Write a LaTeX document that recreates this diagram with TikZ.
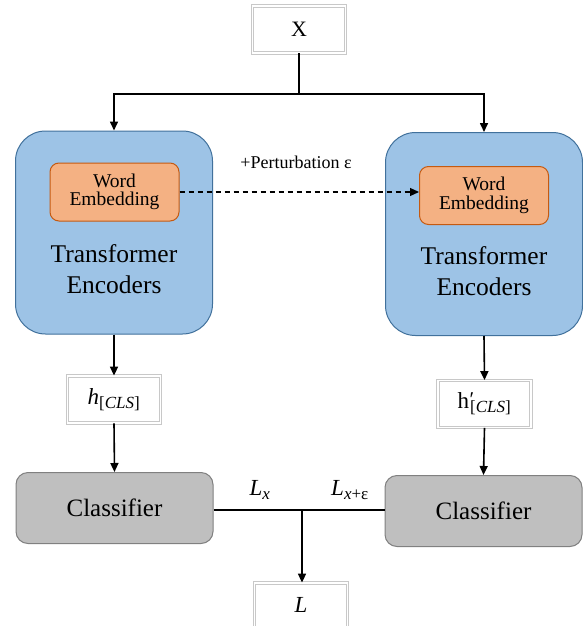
\documentclass[tikz,border=0pt]{standalone}
\usepackage{fontspec}
\setmainfont{Liberation Serif}
\newfontfamily\tnr{Liberation Serif}
\usetikzlibrary{arrows.meta,calc}
\definecolor{encfill}{HTML}{9DC3E6}
\definecolor{encdraw}{HTML}{41719C}
\definecolor{wefill}{HTML}{F4B183}
\definecolor{wedraw}{HTML}{C55A11}
\definecolor{clsfill}{HTML}{BFBFBF}
\definecolor{clsdraw}{HTML}{808080}
\definecolor{boxline}{HTML}{C8C8C8}
\newcommand{\myfs}[1]{\tnr\fontsize{#1}{#1}\selectfont}
\tikzset{
  x=1pt, y=-1pt,
  encbox/.style={draw=encdraw, line width=1pt, fill=encfill, rounded corners=30pt, minimum width=197pt, minimum height=203pt, inner sep=0pt},
  webox/.style={draw=wedraw, line width=1pt, fill=wefill, rounded corners=9pt, minimum width=129pt, minimum height=58pt, align=center, inner sep=0pt},
  clsbox/.style={draw=clsdraw, line width=1pt, fill=clsfill, rounded corners=12pt, minimum width=197pt, minimum height=71pt, inner sep=0pt},
  dbox/.style={draw=boxline, double=white, double distance=1.6pt, line width=0.8pt, fill=white, minimum width=93pt, minimum height=47pt, inner sep=0pt},
  enctext/.style={align=center, inner sep=0pt},
  conn/.style={line width=1.6pt, -{Triangle[length=9pt,width=8pt]}},
  plain/.style={line width=1.6pt},
}
\begin{document}
\begin{tikzpicture}
\clip (0,0) rectangle (583,626);
\fill[white] (0,0) rectangle (583,626);
% top input
\node[dbox, font={\myfs{22}}] (X) at (299,29.5) {X};
\coordinate (j1) at (299,94);
% encoders
\node[encbox] (encL) at (114,232.5) {};
\node[encbox] (encR) at (484,234) {};
\node[webox, font={\myfs{19.5}}] (weL) at (114.5,192) {Word\\[-1pt]Embedding};
\node[webox, font={\myfs{19.5}}] (weR) at (484,195.5) {Word\\[-1pt]Embedding};
\node[enctext, font={\myfs{25.5}}] (tL) at (114,269) {Transformer\\[6pt]Encoders};
\node[enctext, font={\myfs{25.5}}] (tR) at (484,271) {Transformer\\[6pt]Encoders};
% perturbation
\node[font={\myfs{18}}, inner sep=0pt] (pert) at (296,162) {+Perturbation ε};
% CLS boxes
\node[dbox, font={\myfs{23}}] (hL) at (114,399.5) {\textit{h}\textsubscript{\myfs{17}[\textit{CLS}]}};
\node[dbox, font={\myfs{23}}] (hR) at (484.5,404) {h\rlap{\kern0.5pt\raisebox{2pt}{\myfs{21}′}}\kern1pt\textsubscript{\myfs{17}[\textit{CLS}]}};
% classifiers
\node[clsbox, font={\myfs{25}}] (cL) at (114.5,508) {Classifier};
\node[clsbox, font={\myfs{25}}] (cR) at (483.5,511) {Classifier};
% output
\node[dbox, font={\myfs{23}}, minimum height=50pt] (L) at (301,608) {\raisebox{7pt}{\textit{L}}};
\coordinate (j2) at (302,510);
% labels
\node[font={\myfs{23}}, inner sep=0pt] (lx) at (260,490) {\textit{L}\textsubscript{\myfs{17}\textit{x}}};
\node[font={\myfs{23}}, inner sep=0pt] (lxe) at (350,490) {\textit{L}\textsubscript{\myfs{17}\textit{x}+ε}};
% connectors
\draw[plain] (X.south) -- (j1);
\draw[conn] (j1) -| (encL.north);
\draw[conn] (j1) -| (encR.north);
\draw[line width=1.2pt, dash pattern=on 5pt off 4pt, -{Triangle[length=9pt,width=8pt]}] (weL.east) -- (weL.east -| weR.west);
\draw[conn] (encL.south) -- (hL.north);
\draw[conn] (encR.south) -- (hR.north);
\draw[conn] (hL.south) -- (cL.north);
\draw[conn] (hR.south) -- (cR.north);
\draw[plain] (cL.east |- j2) -- (j2) -- (cR.west |- j2);
\draw[conn] (j2) -- (j2 |- L.north);
\end{tikzpicture}
\end{document}
